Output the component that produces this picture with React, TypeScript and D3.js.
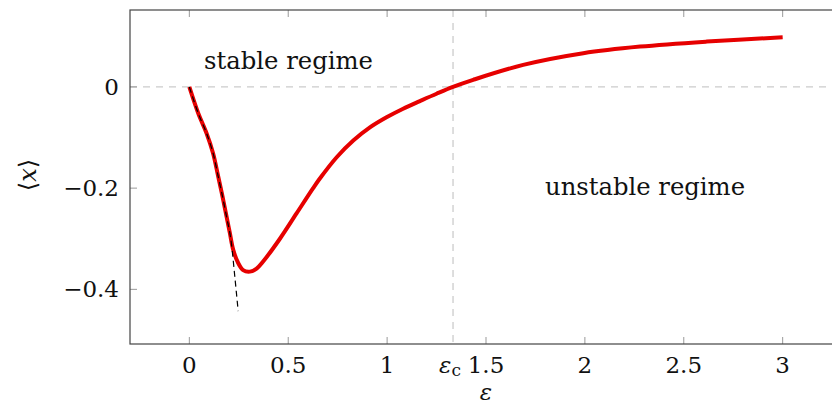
import React from "react";
import * as d3 from "d3";

const epsValues = [0, 0.045, 0.087, 0.12, 0.146, 0.168, 0.188, 0.205, 0.222, 0.247, 0.272, 0.306, 0.34, 0.373, 0.458, 0.542, 0.626, 0.66, 0.745, 0.829, 0.913, 0.997, 1.081, 1.166, 1.25, 1.333, 1.435, 1.688, 1.992, 2.279, 2.616, 3.0];
const meanX = [0, -0.052, -0.0915, -0.131, -0.177, -0.217, -0.256, -0.289, -0.322, -0.348, -0.362, -0.365, -0.359, -0.345, -0.3, -0.25, -0.2, -0.181, -0.139, -0.106, -0.08, -0.06, -0.043, -0.028, -0.0135, 0, 0.014, 0.0435, 0.0666, 0.0797, 0.0896, 0.098];

const approxEps = [0, 0.045, 0.087, 0.12, 0.146, 0.168, 0.188, 0.205, 0.213, 0.23, 0.247];
const approxX = [0, -0.052, -0.0915, -0.131, -0.177, -0.217, -0.256, -0.289, -0.31, -0.375, -0.443];

const xTicks = [0, 0.5, 1, 1.5, 2, 2.5, 3];
const xTickLabels = ["0", "0.5", "1", "1.5", "2", "2.5", "3"];
const yTicks = [0, -0.2, -0.4];
const yTickLabels = ["0", "\u22120.2", "\u22120.4"];
const epsC = 4 / 3;

const FONT = "DejaVu Serif";

export default function App() {
  const left = 130, right = 842, top = 10, bottom = 344;
  const x = d3.scaleLinear().domain([-0.3, 3.3]).range([left, right]);
  const y = d3.scaleLinear().domain([0.152, -0.508]).range([top, bottom]);

  const redLine = d3.line<number>()
    .x((_, i) => x(epsValues[i]))
    .y((d) => y(d))
    .curve(d3.curveCatmullRom.alpha(0.5))(meanX) as string;
  const dashLine = d3.line<number>()
    .x((_, i) => x(approxEps[i]))
    .y((d) => y(d))
    .curve(d3.curveCatmullRom.alpha(0.5))(approxX) as string;

  const tickColor = "#999";
  const axisColor = "#444";
  const ts = { fontFamily: FONT };

  return (
    <svg width={832} height={407} style={{ position: "absolute", left: 0, top: 0, background: "#fff" }}>
      <defs>
        <clipPath id="plotclip">
          <rect x={left} y={top} width={right - left} height={bottom - top} />
        </clipPath>
      </defs>
      {/* grid lines */}
      <line x1={left} x2={right} y1={y(0)} y2={y(0)} stroke="#ccc" strokeWidth={1.3} strokeDasharray="7,6" />
      <line x1={x(epsC)} x2={x(epsC)} y1={top} y2={bottom} stroke="#ccc" strokeWidth={1.3} strokeDasharray="7,6" />

      {/* ticks */}
      {xTicks.map((t) => (
        <g key={"xt" + t}>
          <line x1={x(t)} x2={x(t)} y1={bottom} y2={bottom - 7} stroke={tickColor} strokeWidth={1} />
          <line x1={x(t)} x2={x(t)} y1={top} y2={top + 7} stroke={tickColor} strokeWidth={1} />
        </g>
      ))}
      {yTicks.map((t) => (
        <g key={"yt" + t}>
          <line x1={left} x2={left + 7} y1={y(t)} y2={y(t)} stroke={tickColor} strokeWidth={1} />
          <line x1={right} x2={right - 7} y1={y(t)} y2={y(t)} stroke={tickColor} strokeWidth={1} />
        </g>
      ))}

      {/* curves */}
      <g clipPath="url(#plotclip)">
        <path d={redLine} fill="none" stroke="#e60000" strokeWidth={4} strokeLinejoin="round" />
        <path d={dashLine} fill="none" stroke="#000" strokeWidth={1.2} strokeDasharray="6,4" />
      </g>

      {/* axis frame */}
      <rect x={left} y={top} width={right - left} height={bottom - top} fill="none" stroke={axisColor} strokeWidth={1.2} />

      {/* tick labels */}
      {xTicks.map((t, i) => (
        <text key={"xl" + t} x={x(t)} y={373} fontSize={23} textAnchor="middle" fill="#111" style={ts}>{xTickLabels[i]}</text>
      ))}
      <text x={x(epsC) - 3} y={373} fontSize={23} textAnchor="middle" fill="#111" style={ts}>
        <tspan fontStyle="italic">ε</tspan>
        <tspan fontSize={17} dy={3}>c</tspan>
      </text>
      {yTicks.map((t, i) => (
        <text key={"yl" + t} x={119} y={y(t)} dy="0.35em" fontSize={23} textAnchor="end" fill="#111" style={ts}>{yTickLabels[i]}</text>
      ))}

      {/* axis labels */}
      <text x={486} y={400} fontSize={23} textAnchor="middle" fontStyle="italic" fill="#111" style={ts}>ε</text>
      <text transform={`translate(36,${175}) rotate(-90)`} fontSize={24} textAnchor="middle" fill="#111" style={ts}>
        ⟨<tspan fontStyle="italic">x</tspan>⟩
      </text>

      {/* annotations */}
      <text x={204} y={69} fontSize={24} textLength={169} lengthAdjust="spacingAndGlyphs" fill="#111" style={ts}>stable regime</text>
      <text x={545} y={195} fontSize={24} textLength={200} lengthAdjust="spacingAndGlyphs" fill="#111" style={ts}>unstable regime</text>
    </svg>
  );
}
